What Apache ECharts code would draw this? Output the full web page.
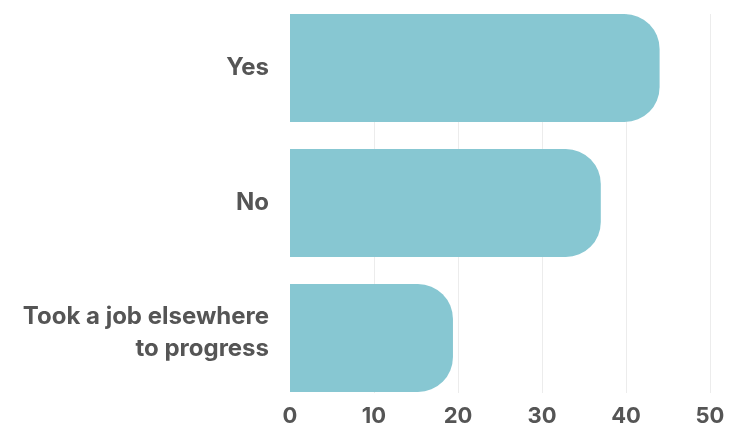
<!DOCTYPE html>
<html>
<head>
<meta charset="utf-8">
<script src="https://cdn.jsdelivr.net/npm/echarts@6/dist/echarts.min.js"></script>
<style>
  html, body { margin: 0; padding: 0; background: #ffffff; }
  #chart { width: 731px; height: 428px; }
</style>
</head>
<body>
<div id="chart"></div>
<script>
// Survey answers, top to bottom
const categories = ['Yes', 'No', 'Took a job elsewhere\nto progress'];
const responses = [44, 37, 19.4];
const xTicks = [0, 10, 20, 30, 40, 50];

const xMin = xTicks[0];
const xMax = xTicks[xTicks.length - 1];
const xStep = xTicks[1] - xTicks[0];

const labelFont = 'Inter, "Open Sans", sans-serif';
const textColor = '#555555';

const chart = echarts.init(document.getElementById('chart'), null, { renderer: 'canvas' });

chart.setOption({
  animation: false,
  grid: [
    // grid 0: value scale, gridlines and tick labels
    { left: 290, right: 21, top: 14, bottom: 35, containLabel: false },
    // grid 1: the bars and category labels
    { left: 290, right: 21, top: 0.5, bottom: 22.5, containLabel: false }
  ],
  xAxis: [
    {
      gridIndex: 0,
      type: 'value',
      min: xMin,
      max: xMax,
      interval: xStep,
      axisLine: { show: false },
      axisTick: { show: false },
      splitLine: {
        show: true,
        lineStyle: { color: '#ececec', width: 1 },
        showMinLine: false
      },
      axisLabel: {
        margin: 12,
        color: textColor,
        fontFamily: labelFont,
        fontWeight: 'bold',
        fontSize: 22
      }
    },
    {
      gridIndex: 1,
      type: 'value',
      min: xMin,
      max: xMax,
      interval: xStep,
      show: false
    }
  ],
  yAxis: [
    {
      gridIndex: 0,
      type: 'category',
      data: categories,
      show: false
    },
    {
      gridIndex: 1,
      type: 'category',
      data: categories,
      inverse: true,
      axisLine: { show: false },
      axisTick: { show: false },
      splitLine: { show: false },
      axisLabel: {
        margin: 21,
        color: textColor,
        fontFamily: labelFont,
        fontWeight: 'bold',
        fontSize: 24,
        lineHeight: 32,
        align: 'right',
        formatter: function (value) {
          // multi-line answer sits a little higher in its row
          const lines = value.split('\n');
          if (lines.length < 2) return value;
          return lines.map(function (l) { return '{line|' + l + '}'; }).join('\n') + '\n{gap| }';
        },
        rich: {
          line: {
            color: textColor,
            fontFamily: labelFont,
            fontWeight: 'bold',
            fontSize: 24,
            lineHeight: 32
          },
          gap: {
            fontSize: 8,
            lineHeight: 10
          }
        }
      }
    }
  ],
  series: [
    {
      type: 'bar',
      xAxisIndex: 1,
      yAxisIndex: 1,
      data: responses,
      barCategoryGap: '20%',
      itemStyle: {
        color: '#87c7d2',
        borderRadius: [0, 35, 35, 0]
      },
      emphasis: { disabled: true }
    }
  ]
});
</script>
</body>
</html>
